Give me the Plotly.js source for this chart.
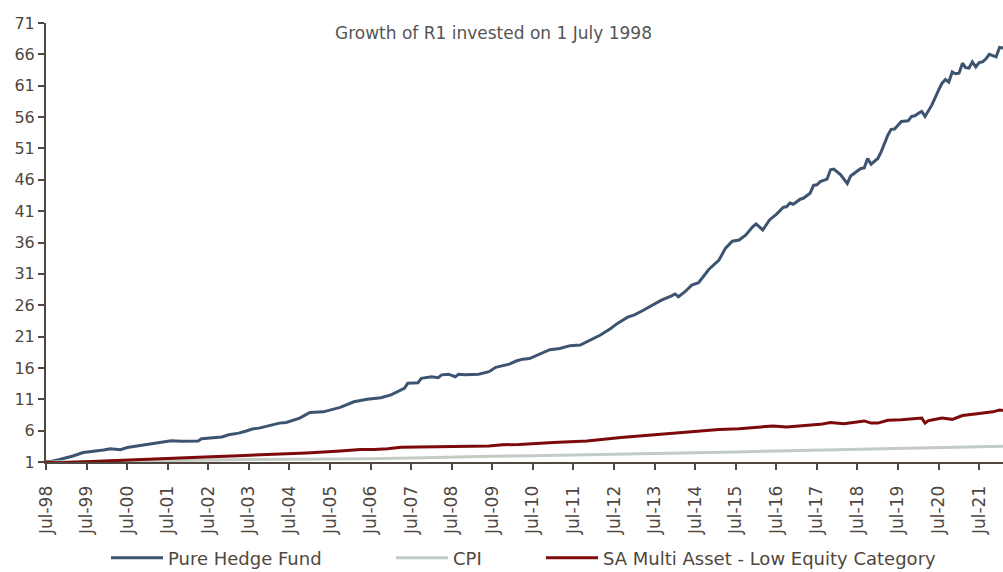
<!DOCTYPE html>
<html><head><meta charset="utf-8">
<script src="https://cdn.plot.ly/plotly-3.0.1.min.js"></script>
<style>html,body{margin:0;padding:0;background:#fff}#chart{width:1003px;height:572px}</style>
</head><body><div id="chart"></div>
<script>
const hedgeDates = ['1998-07','1998-08','1998-11','1999-03','1999-06','1999-08','1999-10','1999-12','2000-02','2000-05','2000-07','2000-10','2001-01','2001-04','2001-06','2001-08','2001-11','2002-02','2002-04','2002-05','2002-08','2002-11','2003-01','2003-04','2003-06','2003-08','2003-10','2004-01','2004-04','2004-06','2004-08','2004-10','2005-01','2005-05','2005-10','2006-02','2006-06','2006-10','2007-01','2007-03','2007-05','2007-06','2007-09','2007-10','2008-01','2008-03','2008-04','2008-06','2008-08','2008-09','2008-11','2009-03','2009-06','2009-08','2009-10','2009-12','2010-02','2010-04','2010-06','2010-09','2010-11','2010-12','2011-03','2011-06','2011-09','2011-12','2012-03','2012-06','2012-08','2012-11','2013-01','2013-03','2013-05','2013-07','2013-09','2013-12','2014-01','2014-02','2014-04','2014-06','2014-08','2014-11','2015-02','2015-04','2015-06','2015-08','2015-10','2015-12','2016-01','2016-03','2016-05','2016-07','2016-09','2016-10','2016-11','2016-12','2017-02','2017-03','2017-05','2017-06','2017-07','2017-08','2017-10','2017-11','2017-12','2018-02','2018-04','2018-05','2018-07','2018-08','2018-09','2018-10','2018-11','2019-01','2019-02','2019-04','2019-05','2019-06','2019-08','2019-10','2019-11','2019-12','2020-01','2020-02','2020-03','2020-05','2020-07','2020-08','2020-09','2020-10','2020-11','2020-12','2021-01','2021-02','2021-03','2021-04','2021-05','2021-06','2021-07','2021-08','2021-09','2021-10','2021-12','2022-01','2022-02'];
const hedgeValues = [1.00,1.05,1.4,1.95,2.5,2.6,2.75,2.9,3.1,2.95,3.3,3.55,3.8,4.0,4.2,4.4,4.3,4.3,4.35,4.7,4.8,5.0,5.35,5.6,5.9,6.25,6.4,6.8,7.2,7.3,7.6,8.0,8.9,9.0,9.7,10.6,11.0,11.25,11.7,12.2,12.75,13.55,13.65,14.35,14.6,14.45,14.9,15.0,14.6,15.0,14.9,15.0,15.4,16.1,16.3,16.6,17.1,17.4,17.5,18.2,18.75,18.9,19.1,19.55,19.65,20.45,21.25,22.3,23.1,24.1,24.45,25.0,25.6,26.3,26.8,27.5,27.8,27.35,28.15,29.2,29.6,31.7,33.2,35.1,36.2,36.4,37.2,38.5,38.95,38.0,39.6,40.5,41.6,41.7,42.3,42.1,42.9,43.05,43.85,45.1,45.2,45.7,46.1,47.6,47.7,46.8,45.4,46.6,47.3,47.8,47.9,49.4,48.5,49.4,50.5,53.1,54.05,54.1,55.3,55.4,56.1,56.2,56.6,56.9,56.1,57.9,60.3,61.4,62.0,61.6,63.2,62.9,63.0,64.6,63.9,63.8,64.8,64.0,64.7,64.8,65.3,66.0,65.6,67.1,67.0];

const cpiDates = ['1998-07','1999-07','2000-07','2001-07','2002-07','2003-07','2004-07','2005-07','2006-07','2007-07','2008-07','2009-07','2010-07','2011-07','2012-07','2013-07','2014-07','2015-07','2016-07','2017-07','2018-07','2019-07','2020-07','2021-07','2022-02'];
const cpiValues = [1.00,1.05,1.12,1.17,1.30,1.38,1.39,1.45,1.51,1.62,1.80,1.91,1.99,2.09,2.21,2.34,2.49,2.61,2.77,2.90,3.03,3.15,3.25,3.40,3.52];

const multiDates = ['1998-07','1998-08','1998-10','1999-01','1999-07','2000-01','2000-07','2001-08','2002-06','2003-04','2004-02','2004-12','2005-10','2006-04','2006-08','2006-12','2007-04','2007-10','2008-03','2008-11','2009-06','2009-10','2010-03','2011-01','2011-11','2012-09','2013-06','2014-04','2015-02','2015-08','2015-12','2016-06','2016-10','2017-04','2017-08','2017-11','2018-03','2018-09','2018-11','2019-01','2019-04','2019-08','2020-01','2020-02','2020-03','2020-04','2020-05','2020-08','2020-11','2021-02','2021-07','2021-11','2022-01','2022-02'];
const multiValues = [1.00,0.95,0.88,0.92,1.05,1.2,1.3,1.7,1.8,2.0,2.2,2.45,2.75,3.0,3.0,3.1,3.35,3.4,3.4,3.45,3.55,3.75,3.8,4.1,4.35,4.9,5.3,5.85,6.2,6.3,6.5,6.75,6.6,6.85,7.0,7.3,7.1,7.55,7.2,7.2,7.65,7.75,8.0,8.0,7.2,7.6,7.7,8.0,7.8,8.4,8.75,9.0,9.3,9.2];

const seriesNames = ['Pure Hedge Fund','CPI','SA Multi Asset - Low Equity Category'];
const titleText = 'Growth of R1 invested on 1 July 1998';

const FONT = '"DejaVu Sans", sans-serif';
const axisCol = '#4f4740';
const textCol = '#4f4740';

const traces = [
  {x: hedgeDates, y: hedgeValues, name: seriesNames[0], legend: 'legend', type: 'scatter', mode: 'lines', line: {color: '#3d5470', width: 3}},
  {x: cpiDates, y: cpiValues, name: seriesNames[1], legend: 'legend2', type: 'scatter', mode: 'lines', line: {color: '#c3cbc5', width: 3}},
  {x: multiDates, y: multiValues, name: seriesNames[2], legend: 'legend3', type: 'scatter', mode: 'lines', line: {color: '#7c0a0a', width: 3}}
];

function leg(px) {
  return {orientation: 'h', xref: 'container', yref: 'container', x: px / 1003, xanchor: 'left', y: 1 - 558 / 572, yanchor: 'middle',
          font: {family: FONT, size: 18, color: textCol}, itemwidth: 52, bgcolor: 'rgba(0,0,0,0)', borderwidth: 0};
}

const layout = {
  width: 1003, height: 572,
  margin: {l: 46, r: 0, t: 23, b: 110},
  paper_bgcolor: '#fff', plot_bgcolor: '#fff',
  font: {family: FONT, color: textCol, size: 15},
  title: {text: titleText, font: {family: FONT, size: 17, color: '#555'}, x: 0.492, xanchor: 'center', y: 0.942, yanchor: 'middle'},
  showlegend: true,
  legend: leg(106), legend2: leg(391), legend3: leg(541),
  xaxis: {
    type: 'date', range: [hedgeDates[0] + '-01', hedgeDates[hedgeDates.length - 1] + '-01'],
    tick0: '1998-07-01', dtick: 'M12', tickformat: '%b-%y', tickangle: -90,
    showline: true, linecolor: axisCol, linewidth: 2, ticks: 'outside', ticklen: 6, tickwidth: 2, tickcolor: axisCol,
    ticklabelstandoff: 9, automargin: false,
    showgrid: false, zeroline: false, tickfont: {size: 17, color: textCol}, fixedrange: true
  },
  yaxis: {
    range: [1, 71], tick0: 1, dtick: 5, automargin: false,
    showline: true, linecolor: axisCol, linewidth: 2, ticks: 'outside', ticklen: 6, tickwidth: 2, tickcolor: axisCol,
    showgrid: false, zeroline: false, tickfont: {size: 16, color: textCol}, fixedrange: true
  }
};

Plotly.newPlot('chart', traces, layout, {displayModeBar: false, staticPlot: true});
</script>
</body></html>
